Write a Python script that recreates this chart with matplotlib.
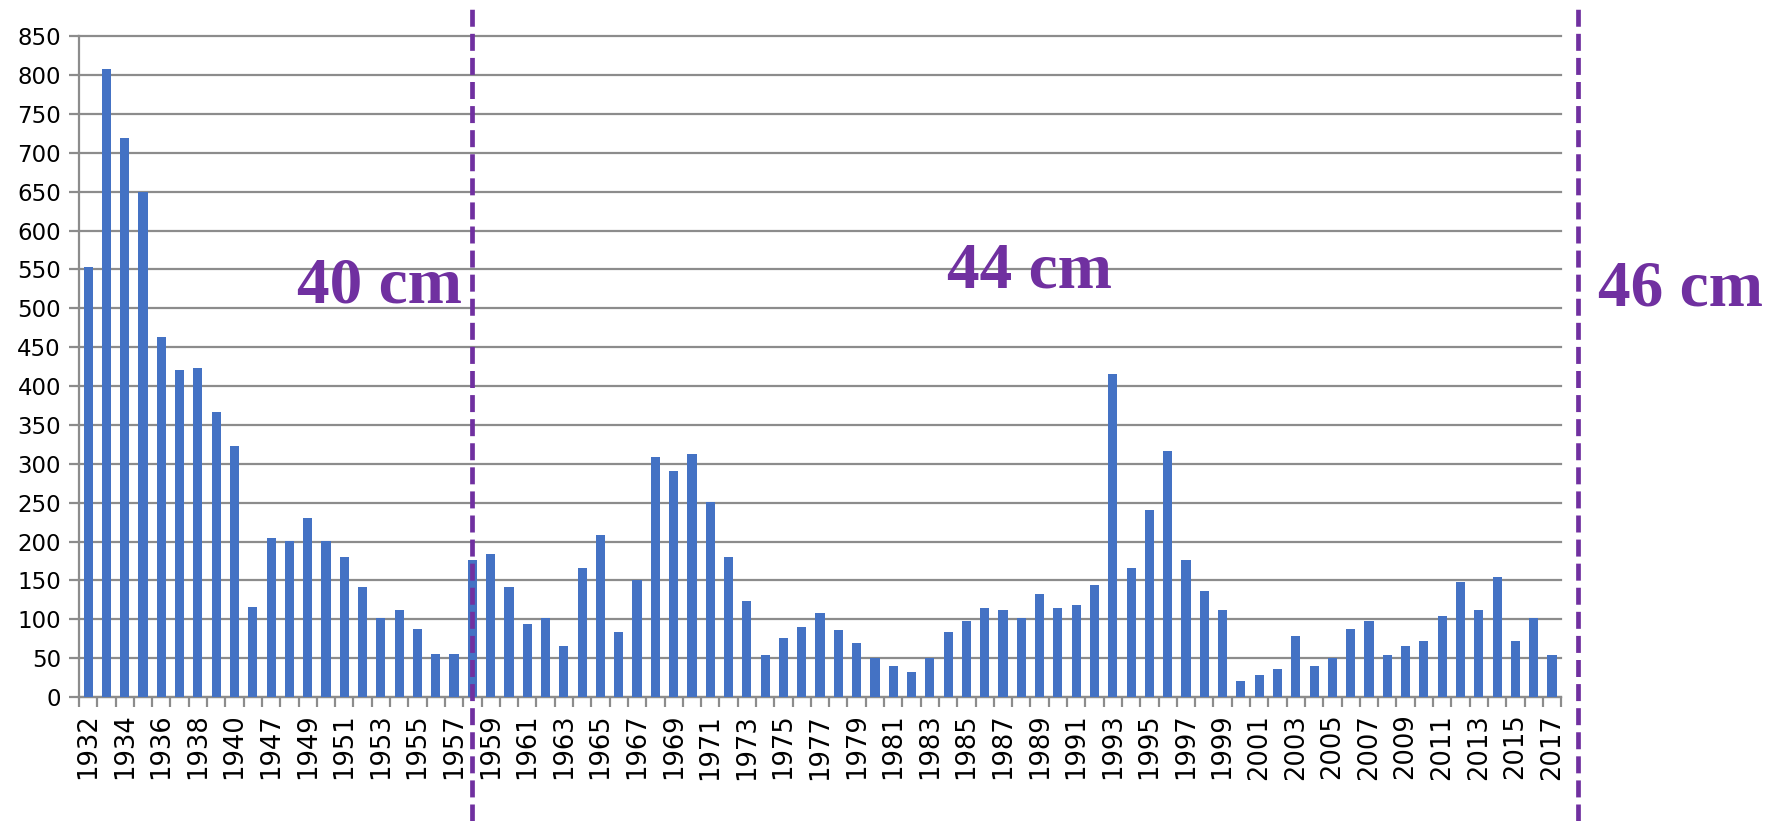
import matplotlib.pyplot as plt
from matplotlib.transforms import blended_transform_factory
import numpy as np

# years on the category axis (one unlabelled year sits between 1940 and 1947)
years = [1932, 1933, 1934, 1935, 1936, 1937, 1938, 1939, 1940, 1946] + list(range(1947, 2018))
values = [553, 808, 719, 650, 463, 420, 423, 366, 323, 116,
          205, 201, 230, 201, 180, 141, 101, 112, 87, 55,
          55, 176, 184, 141, 94, 101, 66, 166, 209, 83,
          151, 309, 291, 312, 251, 180, 123, 54, 76, 90,
          108, 86, 69, 50, 40, 32, 50, 83, 98, 115,
          112, 101, 133, 115, 119, 144, 416, 166, 241, 316,
          176, 137, 112, 21, 28, 36, 79, 40, 50, 87,
          98, 54, 65, 72, 104, 148, 112, 155, 72, 101,
          54]

# regime markers: category where the dashed line sits, and its label
split_years = [1958]
labels = ["40 cm", "44 cm", "46 cm"]

purple = "#7030A0"
grid_col = "#8c8c8c"

fig = plt.figure(figsize=(17.7, 8.21), dpi=100)
ax = fig.add_axes([0.0446, 0.151, 0.8374, 0.805])

x = np.arange(len(years))
ax.bar(x, values, width=0.5, color="#4472C4", zorder=3)

ax.set_xlim(-0.5, len(years) - 0.5)
ax.set_ylim(0, 850)
ax.set_yticks(range(0, 851, 50))
ax.yaxis.grid(True, color=grid_col, linewidth=1.6, zorder=0)
for gl in ax.get_ygridlines():
    gl.set_clip_on(False)
ax.tick_params(axis="y", length=7, width=1.6, color=grid_col, labelsize=16.5, pad=6)

ax.set_xticks(x[::2])
ax.set_xticklabels([str(y) for y in years[::2]], rotation=90, fontsize=18.5)
ax.set_xticks(np.arange(-0.5, len(years), 1), minor=True)
ax.tick_params(axis="x", which="major", length=0, pad=12)
ax.tick_params(axis="x", which="minor", length=7, width=1.6, color=grid_col)

for side in ["top", "right"]:
    ax.spines[side].set_visible(False)
for side in ["left", "bottom"]:
    ax.spines[side].set_color(grid_col)
    ax.spines[side].set_linewidth(1.6)
ax.set_axisbelow(True)

# dashed purple dividers running the full figure height
trans = blended_transform_factory(ax.transData, fig.transFigure)
div_x = [years.index(split_years[0]), len(years) + 0.4]
for dx in div_x:
    ax.plot([dx, dx], [0, 0.989], transform=trans, color=purple, lw=3.4,
            linestyle=(0, (3.6, 1.5)), clip_on=False, zorder=5)

text_kw = dict(color=purple, fontsize=47, fontweight="bold",
               family="Liberation Serif", transform=fig.transFigure, va="baseline")
fig.text(0.168, 0.632, labels[0], **text_kw)
fig.text(0.535, 0.650, labels[1], **text_kw)
fig.text(0.903, 0.628, labels[2], **text_kw)

fig.savefig("out.png", dpi=100)
